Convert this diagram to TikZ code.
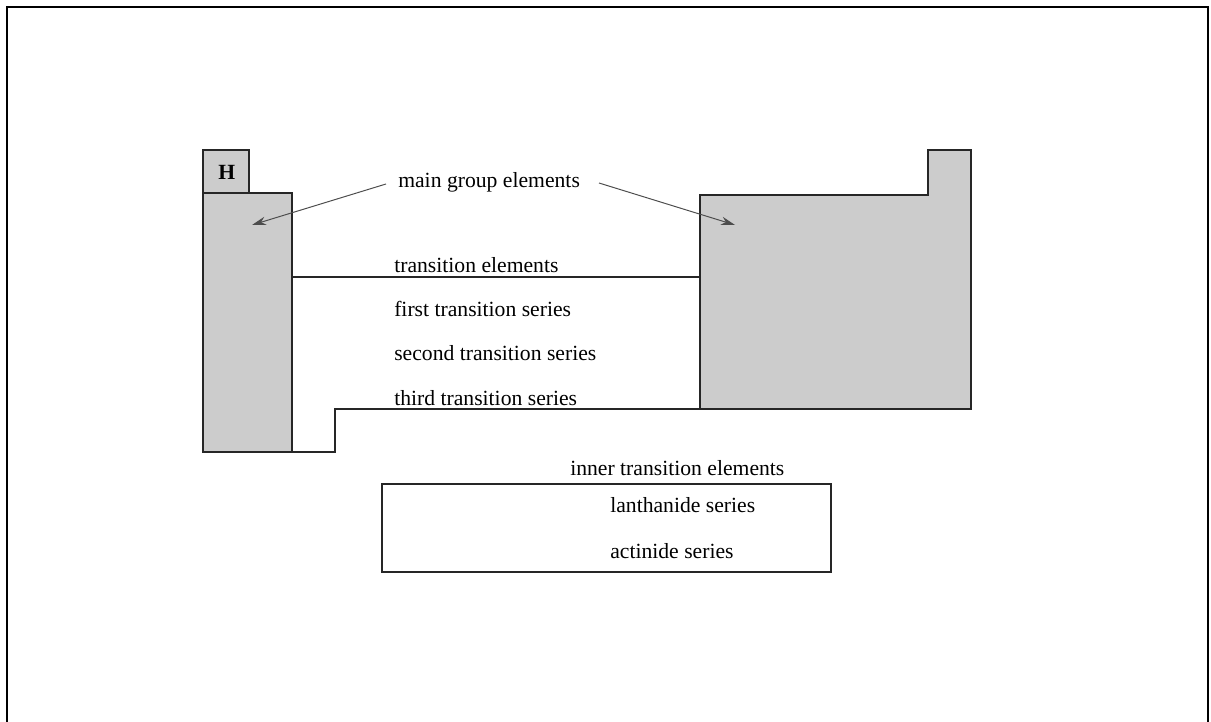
\documentclass[tikz,border=0pt]{standalone}
\usepackage{fontspec}
\setmainfont{Liberation Serif}
\usetikzlibrary{arrows.meta}

\tikzset{
  block/.style={draw=black!85, fill=black!20, line width=0.9pt},
  edge/.style={draw=black!85, line width=0.9pt},
  label/.style={inner sep=0pt, anchor=base west, font=\fontsize{15.4}{18}\selectfont},
  pointer/.style={draw=black!70, line width=0.7pt, -{Stealth[length=10pt, width=6pt]}}
}

\begin{document}
\begin{tikzpicture}[x=0.025cm, y=-0.025cm]

    \useasboundingbox (0,0) rectangle (1211,722);

    % Frame
    \draw[line width=1.5pt] (7,730) -- (7,7) -- (1208,7) -- (1208,730);

    % Blocks
    \draw[block] (203,150) rectangle (249,193);
    \draw[block] (203,193) rectangle (292,452);
    \draw[block] (700,409) -- (700,195) -- (928,195) -- (928,150) -- (971,150) -- (971,409) -- cycle;

    % Transition outline
    \draw[edge] (292,277) -- (700,277);
    \draw[edge] (292,452) -- (335,452) -- (335,409) -- (700,409);

    % Inner transition box
    \draw[edge] (382,484) rectangle (831,572);

    % Nodes
    \node[label, font=\fontsize{15.4}{18}\selectfont\bfseries] at (218,180) (H) {H};
    \node[label] at (398,188) (main) {main group elements};
    \node[label] at (394,272) (trans) {transition elements};
    \node[label] at (394,316) (first) {first transition series};
    \node[label] at (394,360) (second) {second transition series};
    \node[label] at (394,405) (third) {third transition series};
    \node[label] at (570,475) (inner) {inner transition elements};
    \node[label] at (610,512) (lanth) {lanthanide series};
    \node[label] at (610,558) (actin) {actinide series};

    \coordinate (mleft) at (386,184);
    \coordinate (mright) at (599,183);
    \coordinate (sblock) at (252,225);
    \coordinate (pblock) at (735,225);

    % Arrows
    \draw[pointer] (mleft) -- (sblock);
    \draw[pointer] (mright) -- (pblock);

\end{tikzpicture}
\end{document}
